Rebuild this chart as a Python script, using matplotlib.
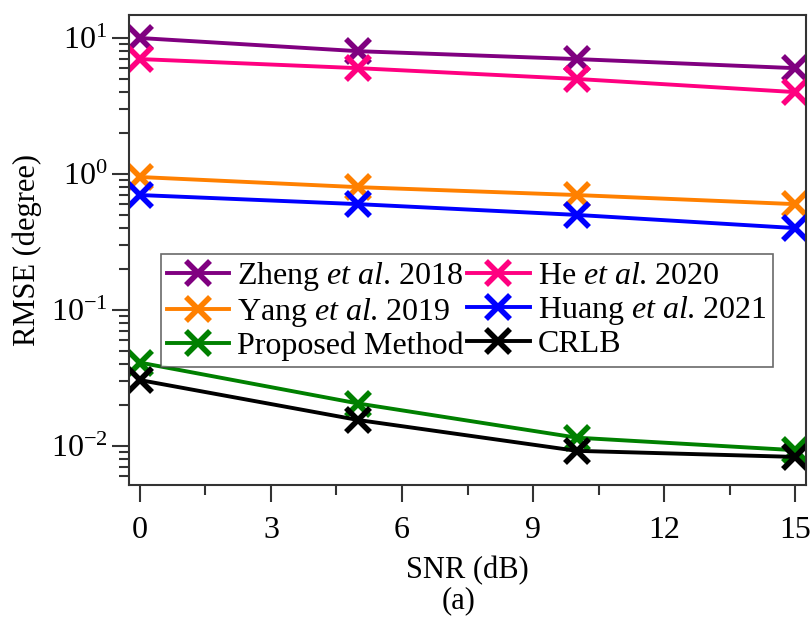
import matplotlib
matplotlib.use("Agg")
import matplotlib.pyplot as plt
from matplotlib.ticker import LogLocator, MultipleLocator, NullFormatter

plt.rcParams['font.family'] = ['Liberation Serif', 'DejaVu Serif']
plt.rcParams['mathtext.fontset'] = 'custom'
plt.rcParams['mathtext.rm'] = 'Liberation Serif'
plt.rcParams['mathtext.it'] = 'Liberation Serif:italic'

snr = [0, 5, 10, 15]
zheng = [10, 8, 7, 6]
he = [7, 6, 5, 4]
yang = [0.95, 0.8, 0.7, 0.6]
huang = [0.7, 0.6, 0.5, 0.4]
proposed = [0.041, 0.0205, 0.0115, 0.0093]
crlb = [0.0305, 0.0155, 0.0092, 0.0083]

labels = [r'Zheng $\mathit{et\ al}$. 2018', r'He $\mathit{et\ al}$. 2020',
          r'Yang $\mathit{et\ al}$. 2019', r'Huang $\mathit{et\ al}$. 2021',
          'Proposed Method', 'CRLB']
series = [zheng, he, yang, huang, proposed, crlb]
colors = ['#800080', '#ff0080', '#ff8000', '#0000ff', '#008000', '#000000']

fig = plt.figure(figsize=(8.11, 6.19), dpi=100)
ax = fig.add_axes([0.159, 0.2165, 0.835, 0.7595])

lines = []
for vals, lab, c in zip(series, labels, colors):
    ln, = ax.plot(snr, vals, color=c, lw=2.8, marker='x', ms=17, mew=4, label=lab)
    lines.append(ln)

ax.set_yscale('log')
ax.set_ylim(0.00516, 14.8)
ax.set_xlim(-0.25, 15.25)
ax.xaxis.set_major_locator(MultipleLocator(3))
ax.xaxis.set_minor_locator(MultipleLocator(1.5))
ax.yaxis.set_major_locator(LogLocator(base=10))
ax.yaxis.set_minor_locator(LogLocator(base=10, subs=range(2, 10)))
ax.yaxis.set_minor_formatter(NullFormatter())

ax.tick_params(axis='both', which='major', direction='out', length=12, width=1.5,
               labelsize=23, color='#333333')
ax.tick_params(axis='both', which='minor', direction='out', length=7, width=1.5,
               color='#333333')
ax.tick_params(axis='x', pad=10)
for s in ax.spines.values():
    s.set_linewidth(1.5)
    s.set_color('#333333')

ax.set_xlabel('SNR (dB)', fontsize=22, labelpad=8)
ax.set_ylabel('RMSE (degree)', fontsize=22, labelpad=6)

# row-wise legend order
order = [0, 2, 4, 1, 3, 5]
leg = ax.legend([lines[i] for i in order], [labels[i] for i in order],
                ncol=2, loc='center', bbox_to_anchor=(0.499, 0.371), fontsize=23,
                frameon=True, fancybox=False, edgecolor='#444444',
                handlelength=1.95, handletextpad=0.25, columnspacing=0.1,
                labelspacing=0.08, borderpad=0.2, borderaxespad=0)
leg.get_frame().set_linewidth(1.2)

fig.text(0.565, 0.03, '(a)', fontsize=22, ha='center', va='center')

fig.savefig('out.png', dpi=100)
